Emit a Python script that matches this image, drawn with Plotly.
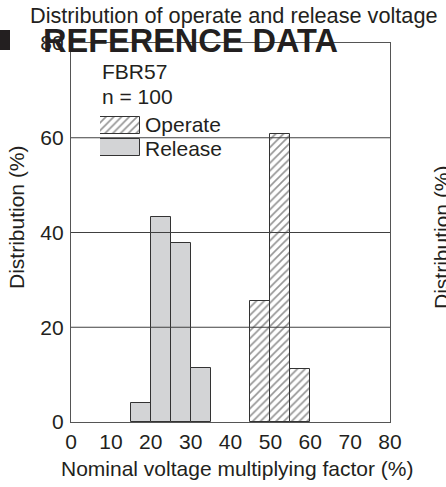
import plotly.graph_objects as go

# Histogram data (percent of samples per 5 % bin, bins given by left edge)
bin_width = 5
release_bins = [15, 20, 25, 30]
release_pct = [4.0, 43.3, 37.8, 11.5]
operate_bins = [45, 50, 55]
operate_pct = [25.5, 60.8, 11.2]

x_ticks = [0, 10, 20, 30, 40, 50, 60, 70, 80]
y_ticks = [0, 20, 40, 60, 80]
grid_levels = [20, 40, 60]

title_text = "Distribution of operate and release voltage"
banner_text = "REFERENCE DATA"
model_text = "FBR57"
sample_text = "n = 100"
x_title = "Nominal voltage multiplying factor (%)"
y_title = "Distribution (%)"

INK = "#231f20"
EDGE = "#333333"
GRAY_FILL = "#d3d4d6"
FONT = "Liberation Sans, Arial, sans-serif"

W, H = 446, 487
L, R, T, B = 71, 390, 43, 422


def px(x):
    return (x - L) / (R - L)


def py(y):
    return (B - y) / (B - T)


hatch = dict(shape="/", size=5.5, solidity=0.3, fgcolor="#2a2a2a", bgcolor="white")

fig = go.Figure()

fig.add_trace(go.Bar(
    x=release_bins, y=release_pct, width=bin_width, offset=0,
    marker=dict(color=GRAY_FILL, line=dict(color=EDGE, width=1)),
    name="Release", showlegend=False,
))
fig.add_trace(go.Bar(
    x=operate_bins, y=operate_pct, width=bin_width, offset=0,
    marker=dict(color="white", pattern=hatch, line=dict(color=EDGE, width=1)),
    name="Operate", showlegend=False,
))

# legend swatches drawn on a small helper axis
fig.add_trace(go.Bar(
    x=[1], y=[1], orientation="h", width=0.8, xaxis="x2", yaxis="y2",
    marker=dict(color="white", pattern=hatch, line=dict(color=EDGE, width=1)),
    showlegend=False, hoverinfo="skip",
))
fig.add_trace(go.Bar(
    x=[1], y=[0], orientation="h", width=0.8, xaxis="x2", yaxis="y2",
    marker=dict(color=GRAY_FILL, line=dict(color=EDGE, width=1)),
    showlegend=False, hoverinfo="skip",
))

shapes = []
for g in grid_levels:
    shapes.append(dict(type="line", xref="paper", yref="y", x0=0, x1=1, y0=g, y1=g,
                       line=dict(color="#404040", width=1.2), layer="above"))
# black bullet square before the banner
shapes.append(dict(type="rect", xref="paper", yref="paper",
                   x0=px(-2), x1=px(10), y0=py(50), y1=py(30),
                   fillcolor=INK, line=dict(width=0)))

txt = dict(family=FONT, size=21, color=INK)
annotations = [
    dict(text=title_text, x=px(28), y=py(15), xref="paper", yref="paper",
         xanchor="left", yanchor="middle", showarrow=False,
         font=dict(family=FONT, size=21.7, color=INK)),
    dict(text="<b>" + banner_text + "</b>", x=px(41), y=py(41), xref="paper", yref="paper",
         xanchor="left", yanchor="middle", showarrow=False,
         font=dict(family=FONT, size=32.5, color=INK)),
    dict(text=model_text, x=px(100), y=py(71), xref="paper", yref="paper",
         xanchor="left", yanchor="middle", showarrow=False, font=txt),
    dict(text=sample_text, x=px(100), y=py(96), xref="paper", yref="paper",
         xanchor="left", yanchor="middle", showarrow=False, font=txt),
    dict(text="Operate", x=px(143), y=py(124), xref="paper", yref="paper",
         xanchor="left", yanchor="middle", showarrow=False, font=txt),
    dict(text="Release", x=px(143), y=py(148), xref="paper", yref="paper",
         xanchor="left", yanchor="middle", showarrow=False, font=txt),
    dict(text=x_title, x=px(237), y=py(468), xref="paper", yref="paper",
         xanchor="center", yanchor="middle", showarrow=False, font=txt),
    dict(text=y_title, x=px(16), y=py(217), xref="paper", yref="paper",
         xanchor="center", yanchor="middle", showarrow=False, textangle=-90, font=txt),
    dict(text=y_title, x=px(441), y=py(237), xref="paper", yref="paper",
         xanchor="center", yanchor="middle", showarrow=False, textangle=-90, font=txt),
]

fig.update_layout(
    width=W, height=H,
    margin=dict(l=L, r=W - R, t=T, b=H - B, pad=0),
    paper_bgcolor="white", plot_bgcolor="white",
    barmode="overlay", bargap=0,
    font=txt,
    xaxis=dict(range=[0, 80], tickvals=x_ticks, showgrid=False, zeroline=False,
               showline=True, mirror=True, linecolor="#555555", linewidth=1.2,
               ticks="", tickfont=txt, ticklabelstandoff=1),
    yaxis=dict(range=[0, 80], tickvals=y_ticks, showgrid=False, zeroline=False,
               showline=True, mirror=True, linecolor="#555555", linewidth=1.2,
               ticks="", tickfont=txt, ticklabelstandoff=2),
    xaxis2=dict(domain=[px(100), px(140)], range=[0, 1], anchor="y2",
                visible=False, fixedrange=True),
    yaxis2=dict(domain=[py(158), py(115)], range=[-0.5, 1.5], anchor="x2",
                visible=False, fixedrange=True),
    shapes=shapes,
    annotations=annotations,
    showlegend=False,
)

fig.write_html("out.html")
